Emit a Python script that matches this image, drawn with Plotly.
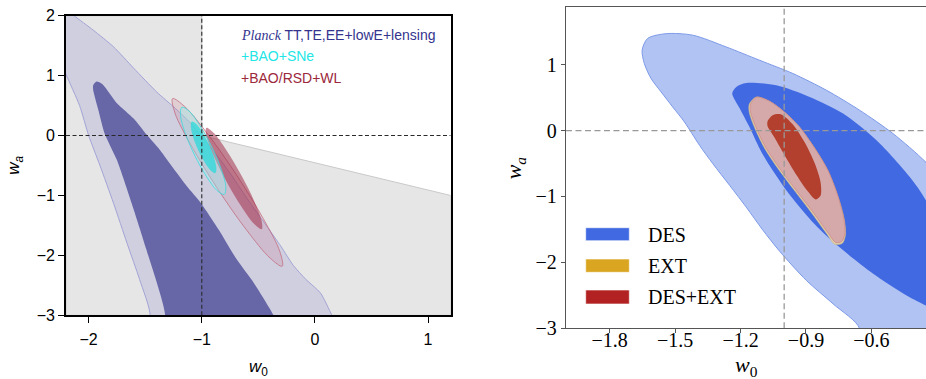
import plotly.graph_objects as go

# ---------------- LEFT PANEL DATA (w0, wa) ----------------
grey_w0 = [-2.2, -1.0, -1.0, 1.2, 1.2, -2.2]
grey_wa = [2.0, 2.0, 0.0, -1.0, -3.0, -3.0]

planck_outer_w0 = [-2.5, -2.34, -2.13, -1.96, -1.78, -1.6, -1.4, -1.22, -1.1, -1.01, -0.9, -0.76, -0.6,
                   -0.43, -0.3, -0.19, -0.08, 0.05, 0.15, 0.25, -1.55, -1.457, -1.55, -1.66, -1.78, -1.9,
                   -2.0, -2.08, -2.2, -2.28]
planck_outer_wa = [2.5, 2.3, 2.0, 1.76, 1.48, 1.12, 0.73, 0.43, 0.21, 0.0, -0.25, -0.6, -1.05,
                   -1.5, -1.85, -2.17, -2.4, -2.63, -3.0, -3.4, -3.4, -3.0, -2.4, -1.8, -1.13, -0.5,
                   0.0, 0.5, 1.02, 1.4]

planck_inner_w0 = [-1.96, -1.93, -1.88, -1.75, -1.6, -1.49, -1.37, -1.25, -1.13, -1.01, -0.85, -0.69,
                   -0.54, -0.365, -0.3, -1.37, -1.324, -1.49, -1.62, -1.75, -1.86, -1.915, -1.96]
planck_inner_wa = [0.84, 0.9, 0.86, 0.54, 0.28, 0.02, -0.24, -0.55, -0.85, -1.12, -1.57, -2.07,
                   -2.46, -3.0, -3.3, -3.3, -3.0, -1.9, -1.13, -0.41, 0.04, 0.43, 0.76]

lss_outer_w0 = [-0.289, -0.310, -0.456, -0.687, -0.941, -1.150, -1.258, -1.237, -1.091, -0.860, -0.606, -0.396]
lss_outer_wa = [-2.18, -1.938, -1.388, -0.675, 0.008, 0.482, 0.617, 0.375, -0.175, -0.888, -1.572, -2.045]
lss_inner_w0 = [-0.470, -0.472, -0.538, -0.653, -0.784, -0.896, -0.960, -0.958, -0.892, -0.777, -0.646, -0.534]
lss_inner_wa = [-1.563, -1.418, -1.087, -0.655, -0.24, 0.045, 0.127, -0.018, -0.35, -0.782, -1.197, -1.482]

sne_outer_w0 = [-0.801, -0.788, -0.829, -0.912, -1.017, -1.112, -1.176, -1.188, -1.148, -1.064, -0.960, -0.865]
sne_outer_wa = [-0.982, -0.848, -0.558, -0.187, 0.168, 0.408, 0.472, 0.338, 0.048, -0.325, -0.678, -0.918]
sne_inner_w0 = [-0.881, -0.871, -0.890, -0.935, -0.994, -1.050, -1.088, -1.097, -1.078, -1.033, -0.974, -0.919]
sne_inner_wa = [-0.627, -0.548, -0.377, -0.155, 0.053, 0.195, 0.233, 0.155, -0.017, -0.238, -0.447, -0.588]

left_labels = ["<span style='font-family:Liberation Serif'><i>Planck</i></span> TT,TE,EE+lowE+lensing",
               "+BAO+SNe", "+BAO/RSD+WL"]
left_label_colors = ["#34348e", "#22e6e6", "#9c283c"]

# ---------------- RIGHT PANEL DATA (w0, wa) ----------------
des_outer_w0 = [-1.651, -1.626, -1.541, -1.419, -1.266, -1.113, -0.960, -0.806, -0.654, -0.501, -0.35,
                -0.2, -0.08, -0.02, 0.0, -0.70, -0.654, -0.776, -0.898, -1.021, -1.10, -1.174, -1.25,
                -1.327, -1.388, -1.457, -1.511, -1.564, -1.610, -1.641]
des_outer_wa = [1.22, 1.398, 1.471, 1.448, 1.27, 1.068, 0.866, 0.612, 0.309, -0.046, -0.482,
                -1.05, -1.9, -2.8, -3.5, -3.5, -3.009, -2.629, -2.275, -1.83, -1.50, -1.161, -0.831,
                -0.502, -0.223, 0.131, 0.359, 0.587, 0.79, 1.018]

des_inner_w0 = [-1.238, -1.218, -1.174, -1.036, -0.883, -0.730, -0.577, -0.424, -0.35, -0.24, -0.2,
                -0.30, -0.35, -0.439, -0.592, -0.75, -0.86, -0.98, -1.10, -1.159, -1.204]
des_inner_wa = [0.567, 0.666, 0.723, 0.688, 0.511, 0.258, -0.147, -0.705, -1.059, -1.82, -2.4,
                -2.72, -2.655, -2.503, -2.173, -1.76, -1.42, -0.95, -0.35, 0.055, 0.339]

ext_outer_w0 = [-1.160, -1.128, -1.067, -0.998, -0.929, -0.860, -0.800, -0.755, -0.725, -0.719, -0.733,
                -0.768, -0.806, -0.881, -0.959, -1.028, -1.092, -1.138, -1.160]
ext_outer_wa = [0.40, 0.51, 0.445, 0.278, 0.050, -0.269, -0.603, -0.983, -1.34, -1.58, -1.71,
                -1.725, -1.56, -1.22, -0.883, -0.578, -0.256, 0.065, 0.278]
ext_inner_w0 = [-1.079, -1.055, -1.016, -0.961, -0.904, -0.857, -0.829, -0.829, -0.855, -0.895, -0.947,
                -1.002, -1.052, -1.079]
ext_inner_wa = [0.141, 0.235, 0.25, 0.096, -0.18, -0.50, -0.79, -0.995, -1.06, -0.935, -0.687,
                -0.38, -0.089, 0.065]

comb_outer_w0 = [-1.154, -1.126, -1.067, -0.998, -0.929, -0.860, -0.800, -0.755, -0.727, -0.722, -0.736,
                 -0.764, -0.800, -0.874, -0.952, -1.021, -1.085, -1.131, -1.154]
comb_outer_wa = [0.400, 0.506, 0.445, 0.278, 0.050, -0.269, -0.603, -0.983, -1.333, -1.561, -1.682,
                 -1.698, -1.546, -1.211, -0.877, -0.573, -0.254, 0.065, 0.278]
comb_inner_w0 = [-1.076, -1.053, -1.016, -0.961, -0.906, -0.860, -0.833, -0.833, -0.856, -0.892, -0.943,
                 -0.998, -1.048, -1.076]
comb_inner_wa = [0.141, 0.233, 0.248, 0.096, -0.178, -0.497, -0.786, -0.983, -1.044, -0.922, -0.679,
                 -0.375, -0.087, 0.065]

right_labels = ["DES", "EXT", "DES+EXT"]
right_label_colors = ["#4169e1", "#daa520", "#b22222"]

left_xticks = [-2, -1, 0, 1]
left_yticks = [-3, -2, -1, 0, 1, 2]
right_xticks = [-1.8, -1.5, -1.2, -0.9, -0.6]
right_yticks = [-3, -2, -1, 0, 1]

# ---------------- FIGURE ----------------
fig = go.Figure()


def region(x, y, xa, ya, fill, lc, lw, shape="spline", smooth=1.0):
    fig.add_trace(go.Scatter(
        x=list(x) + [x[0]], y=list(y) + [y[0]], mode="lines", fill="toself",
        fillcolor=fill, line=dict(color=lc, width=lw, shape=shape, smoothing=smooth),
        xaxis=xa, yaxis=ya, hoverinfo="skip", showlegend=False))


# left panel
region(grey_w0, grey_wa, "x", "y", "#e6e6e6", "#c9c9c9", 1, shape="linear")
region(planck_outer_w0, planck_outer_wa, "x", "y", "#cfcfe0", "#a3a3d6", 1, smooth=0.6)
region(planck_inner_w0, planck_inner_wa, "x", "y", "#6767a8", "rgba(0,0,0,0)", 0, smooth=0.6)
region(lss_outer_w0, lss_outer_wa, "x", "y", "rgba(205,110,130,0.2)", "rgba(195,110,130,0.8)", 1)
region(lss_inner_w0, lss_inner_wa, "x", "y", "rgba(160,45,75,0.55)", "rgba(0,0,0,0)", 0)
region(sne_outer_w0, sne_outer_wa, "x", "y", "rgba(150,240,240,0.35)", "rgba(60,220,220,0.8)", 1)
region(sne_inner_w0, sne_inner_wa, "x", "y", "rgba(40,218,218,0.75)", "rgba(0,0,0,0)", 0)

# right panel
region(des_outer_w0, des_outer_wa, "x2", "y2", "#b1c3f2", "#7d9ae8", 1, smooth=0.8)
region(des_inner_w0, des_inner_wa, "x2", "y2", "#4169e1", "rgba(0,0,0,0)", 0, smooth=0.8)
region(ext_outer_w0, ext_outer_wa, "x2", "y2", "#ddd0aa", "#cdb98a", 0.6, smooth=0.8)
region(ext_inner_w0, ext_inner_wa, "x2", "y2", "#c9745a", "rgba(0,0,0,0)", 0, smooth=0.8)
region(comb_outer_w0, comb_outer_wa, "x2", "y2", "#d5a9a9", "#d08a86", 0.8, smooth=0.8)
region(comb_inner_w0, comb_inner_wa, "x2", "y2", "#b3402f", "rgba(0,0,0,0)", 0, smooth=0.8)

shapes = [
    dict(type="line", xref="x", yref="y", x0=-1, x1=-1, y0=-3, y1=2,
         line=dict(color="#2a2a2a", width=1.1, dash="4px,2.5px")),
    dict(type="line", xref="x", yref="y", x0=-2.2, x1=1.2, y0=0, y1=0,
         line=dict(color="#2a2a2a", width=1.1, dash="4px,2.5px")),
    dict(type="line", xref="x2", yref="y2", x0=-1, x1=-1, y0=-3, y1=1.88,
         line=dict(color="#999999", width=1.3, dash="6px,3.5px")),
    dict(type="line", xref="x2", yref="y2", x0=-2.0, x1=-0.35, y0=0, y1=0,
         line=dict(color="#999999", width=1.3, dash="6px,3.5px")),
]

annotations = []
left_label_y = [0.9077, 0.8522, 0.7942]
for txt, col, yy in zip(left_labels, left_label_colors, left_label_y):
    annotations.append(dict(xref="paper", yref="paper", x=0.258, y=yy, xanchor="left", yanchor="middle",
                            text=txt, showarrow=False,
                            font=dict(family="Liberation Sans", size=14, color=col)))

patch_y = [(0.3649, 0.3992), (0.2815, 0.3166), (0.1979, 0.2348)]
text_y = [0.3799, 0.2989, 0.2172]
for lab, col, (y0, y1), ty in zip(right_labels, right_label_colors, patch_y, text_y):
    shapes.append(dict(type="rect", xref="paper", yref="paper", x0=0.6325, x1=0.6796, y0=y0, y1=y1,
                       fillcolor=col, line=dict(color="rgba(255,255,255,0.6)", width=1), layer="above"))
    annotations.append(dict(xref="paper", yref="paper", x=0.6976, y=ty, xanchor="left", yanchor="middle",
                            text=lab, showarrow=False,
                            font=dict(family="Liberation Serif", size=20, color="black")))

# axis titles
annotations += [
    dict(xref="paper", yref="paper", x=0.279, y=0.03, xanchor="center", yanchor="middle",
         text="<i>w</i><sub>0</sub>", showarrow=False,
         font=dict(family="Liberation Sans", size=17, color="black")),
    dict(xref="paper", yref="paper", x=0.016, y=0.565, xanchor="center", yanchor="middle",
         text="<i>w<sub>a</sub></i>", textangle=-90, showarrow=False,
         font=dict(family="Liberation Sans", size=17, color="black")),
    dict(xref="paper", yref="paper", x=0.8064, y=0.033, xanchor="center", yanchor="middle",
         text="<i>w</i><sub>0</sub>", showarrow=False,
         font=dict(family="Liberation Serif", size=22, color="black")),
    dict(xref="paper", yref="paper", x=0.556, y=0.558, xanchor="center", yanchor="middle",
         text="<i>w<sub>a</sub></i>", textangle=-90, showarrow=False,
         font=dict(family="Liberation Serif", size=22, color="black")),
]

fig.update_layout(
    width=926, height=379, margin=dict(l=0, r=0, t=0, b=0, autoexpand=False),
    paper_bgcolor="white", plot_bgcolor="white", showlegend=False,
    shapes=shapes, annotations=annotations,
    xaxis=dict(domain=[0.0713, 0.4867], range=[-2.2, 1.2], anchor="y", showgrid=False, zeroline=False,
               automargin=False, ticklabelstandoff=3,
               showline=True, linecolor="black", linewidth=1.6, mirror=True,
               ticks="outside", ticklen=6, tickwidth=1.4, tickcolor="black",
               tickvals=left_xticks, tickfont=dict(family="Liberation Sans", size=16, color="black")),
    yaxis=dict(domain=[0.168, 0.9586], range=[-3, 2], anchor="x", showgrid=False, zeroline=False,
               automargin=False,
               showline=True, linecolor="black", linewidth=1.6, mirror=True,
               ticks="outside", ticklen=6, tickwidth=1.4, tickcolor="black",
               tickvals=left_yticks, tickfont=dict(family="Liberation Sans", size=16, color="black")),
    xaxis2=dict(domain=[0.6112, 1.0], range=[-2.0, -0.35], anchor="y2", showgrid=False, zeroline=False,
                automargin=False, ticklabelstandoff=-10,
                showline=True, linecolor="#555555", linewidth=1.4, mirror=True,
                ticks="outside", ticklen=4, tickwidth=1.2, tickcolor="#555555",
                tickvals=right_xticks, tickformat=".1f",
                tickfont=dict(family="Liberation Serif", size=20, color="black")),
    yaxis2=dict(domain=[0.1338, 0.9823], range=[-3, 1.88], anchor="x2", showgrid=False, zeroline=False,
                automargin=False,
                showline=True, linecolor="#555555", linewidth=1.4, mirror=False,
                ticks="outside", ticklen=4, tickwidth=1.2, tickcolor="#555555",
                tickvals=right_yticks,
                tickfont=dict(family="Liberation Serif", size=20, color="black")),
)

fig.write_html("out.html")
